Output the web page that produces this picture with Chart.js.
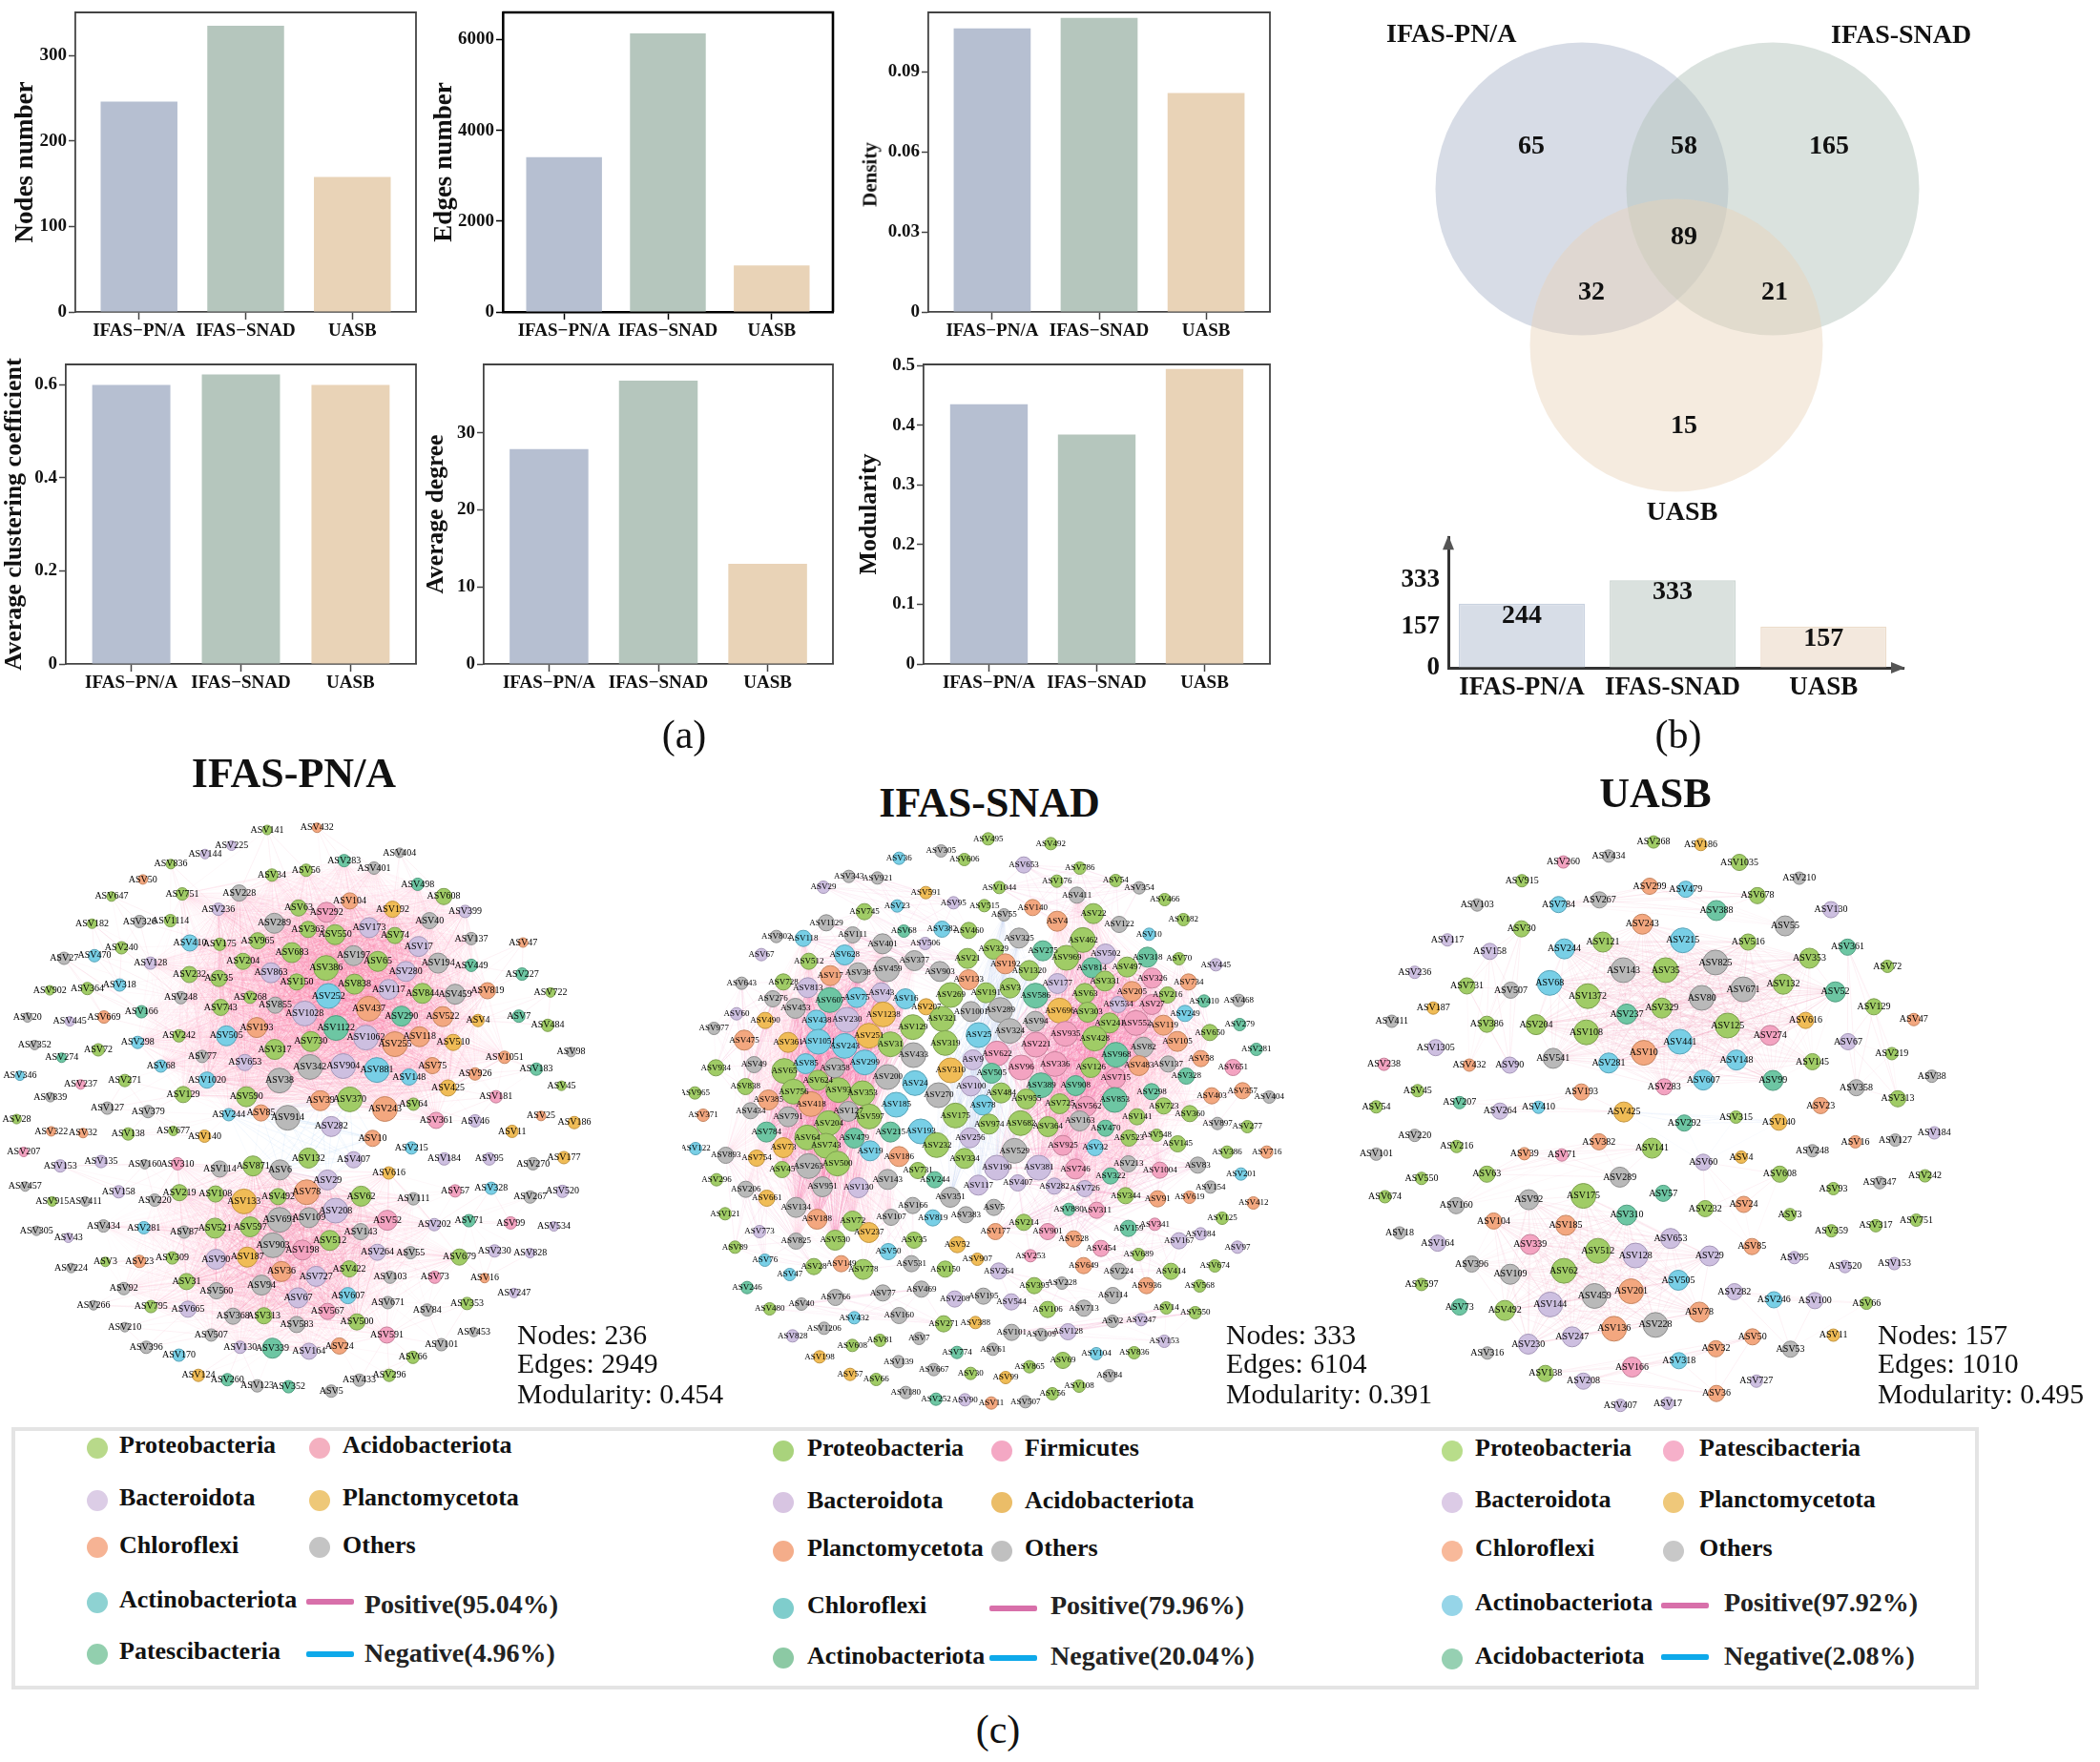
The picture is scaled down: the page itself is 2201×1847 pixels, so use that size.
<!DOCTYPE html>
<html>
<head>
<meta charset="utf-8">
<title>Co-occurrence networks</title>
<script src="https://cdn.jsdelivr.net/npm/chart.js@4"></script>
<style>
  html, body { margin: 0; background: #fff; }
  #page { position: relative; width: 2201px; height: 1847px; overflow: hidden; font-family: "Liberation Serif", serif; color: #111; }
  #page canvas { position: absolute; }
  .txt { position: absolute; white-space: nowrap; line-height: 1; transform: translateY(-50%); }
  .ctr { transform: translate(-50%, -50%); }
  .dot { position: absolute; width: 22px; height: 22px; border-radius: 50%; transform: translate(-50%, -50%); }
  .bar { position: absolute; width: 50px; height: 6px; border-radius: 2px; transform: translateY(-50%); }
  #legendBox { position: absolute; left: 12px; top: 1496px; width: 2054px; height: 267px; border: 4px solid #e4e4e4; }
</style>
</head>
<body>
<div id="page"><div id="legendBox"></div></div>
<script>
// ---- panel (a) values
const categories = ['IFAS\u2212PN/A', 'IFAS\u2212SNAD', 'UASB'];
const nodesNumber = [246, 335, 158];
const edgesNumber = [3410, 6140, 1025];
const densityValues = [0.1063, 0.1102, 0.0821];
const clusteringValues = [0.600, 0.6225, 0.600];
const degreeValues = [27.9, 36.8, 13.0];
const modularityValues = [0.435, 0.384, 0.494];

const nodesTicks = [0, 100, 200, 300];
const edgesTicks = [0, 2000, 4000, 6000];
const densityTicks = [0, 0.03, 0.06, 0.09];
const clusteringTicks = [0, 0.2, 0.4, 0.6];
const degreeTicks = [0, 10, 20, 30];
const modularityTicks = [0, 0.1, 0.2, 0.3, 0.4, 0.5];

// ---- panel (b) values
const vennSets = ['IFAS-PN/A', 'IFAS-SNAD', 'UASB'];
const vennCounts = ['65', '58', '165', '89', '32', '21', '15'];
const vennCountX = [205, 365, 517, 365, 268, 460, 365];
const vennCountY = [154, 154, 154, 249, 307, 307, 447];
const vennCircleX = [258, 458, 357];
const vennCircleY = [198, 198, 362];
const totalNodes = [244, 333, 157];
const totalTicks = [0, 157, 333];

// ---- panel (c) network nodes: label, x, y, degree class, node colour key
const pnaNodes = `ASV141 563 196 1 g,ASV432 668 191 1 o,ASV225 488 232 1 v,ASV144 432 251 1 v,ASV404 842 248 1 k,ASV836 360 274 1 g,ASV283 725 266 2 t,ASV401 788 283 2 k,
ASV56 645 288 2 g,ASV34 573 299 2 g,ASV50 301 309 1 o,ASV498 880 320 2 t,ASV608 935 348 3 g,ASV647 235 348 1 g,ASV751 384 342 2 g,ASV228 504 340 3 k,
ASV236 460 377 2 v,ASV63 629 374 3 g,ASV292 688 384 4 p,ASV104 737 358 3 o,ASV192 827 377 3 y,ASV399 980 382 2 v,ASV182 194 410 1 g,ASV326 294 405 2 k,
ASV1114 359 403 2 g,ASV40 905 403 3 k,ASV289 578 409 4 k,ASV363 649 423 3 g,ASV173 778 419 4 v,ASV550 706 435 4 g,ASV74 832 437 3 g,ASV137 993 444 2 k,
ASV47 1102 453 1 o,ASV410 400 454 3 c,ASV175 463 457 2 g,ASV965 543 449 3 g,ASV17 882 462 4 v,ASV240 256 465 2 g,ASV470 199 483 2 c,ASV27 135 489 2 k,
ASV683 615 476 4 g,ASV197 745 483 4 k,ASV65 796 496 4 g,ASV204 512 496 3 g,ASV194 923 500 4 k,ASV449 993 505 2 t,ASV128 317 500 2 v,ASV232 399 526 3 g,
ASV35 461 535 3 g,ASV386 687 511 5 g,ASV863 571 522 4 v,ASV280 855 519 4 v,ASV227 1100 525 2 t,ASV150 625 543 3 g,ASV318 252 550 2 c,ASV364 184 558 2 g,
ASV902 105 562 1 g,ASV838 747 548 4 g,ASV117 819 560 4 v,ASV844 890 569 4 g,ASV459 959 571 4 k,ASV819 1027 563 3 o,ASV722 1160 567 1 g,ASV248 381 579 2 k,
ASV268 527 578 2 g,ASV252 692 575 5 c,ASV437 777 604 5 o,ASV855 580 596 3 k,ASV743 465 601 3 g,ASV166 298 611 2 t,ASV20 58 624 1 k,ASV445 147 633 1 v,
ASV669 219 623 2 o,ASV1028 642 615 5 v,ASV522 933 622 4 o,ASV290 846 621 4 t,ASV4 1007 631 2 y,ASV7 1093 621 2 t,ASV484 1154 642 2 g,ASV193 541 647 4 o,
ASV1122 708 648 5 t,ASV242 377 666 2 g,ASV505 477 666 4 c,ASV1062 771 670 5 v,ASV118 884 668 4 o,ASV255 832 685 5 o,ASV730 655 679 4 g,ASV510 955 681 3 y,
ASV352 73 687 1 k,ASV298 290 681 2 c,ASV72 207 698 2 g,ASV274 130 716 1 t,ASV77 426 713 2 k,ASV317 579 697 4 g,ASV653 516 727 3 v,ASV98 1203 703 1 k,
ASV1051 1063 715 2 o,ASV183 1130 742 2 t,ASV68 339 735 2 c,ASV342 653 737 5 k,ASV904 723 735 5 v,ASV881 794 744 5 c,ASV75 911 734 3 o,ASV346 42 757 1 c,
ASV148 862 760 3 c,ASV926 1001 753 2 o,ASV1020 436 767 3 c,ASV271 263 768 2 g,ASV237 170 777 1 p,ASV38 589 768 5 k,ASV45 1183 780 1 g,ASV425 944 785 3 y,
ASV839 106 806 1 k,ASV129 386 800 3 g,ASV590 519 805 4 g,ASV39 675 814 4 o,ASV370 737 811 5 g,ASV181 1045 805 2 p,ASV64 871 822 2 g,ASV127 226 831 2 k,
ASV379 312 839 2 k,ASV243 811 833 5 o,ASV244 482 846 2 c,ASV85 550 842 3 o,ASV914 606 853 5 k,ASV25 1140 849 1 o,ASV186 1210 864 2 y,ASV28 35 856 1 g,
ASV361 919 859 3 p,ASV46 1001 860 2 v,ASV322 108 884 1 o,ASV32 175 888 1 o,ASV138 270 890 2 g,ASV677 365 883 1 g,ASV140 431 895 2 y,ASV282 698 873 4 v,
ASV11 1079 884 2 y,ASV10 785 900 3 o,ASV207 50 931 1 p,ASV215 867 922 2 c,ASV132 650 945 4 g,ASV184 936 947 2 v,ASV95 1031 947 2 v,ASV177 1188 944 2 y,
ASV407 745 949 3 v,ASV135 213 953 2 v,ASV153 127 963 2 v,ASV160 305 959 1 k,ASV310 374 958 2 p,ASV114 463 970 3 k,ASV871 533 963 4 g,ASV270 1123 958 2 k,
ASV6 590 972 4 k,ASV616 819 979 2 y,ASV29 690 995 4 v,ASV457 53 1010 1 k,ASV158 250 1022 2 v,ASV57 959 1020 2 p,ASV328 1035 1014 2 c,ASV520 1185 1021 2 v,
ASV219 378 1024 3 g,ASV108 454 1027 3 g,ASV492 586 1033 3 g,ASV78 646 1023 5 o,ASV62 761 1032 4 g,ASV111 871 1038 2 k,ASV267 1117 1034 2 k,ASV915 110 1044 1 g,
ASV411 180 1044 1 k,ASV220 326 1041 2 k,ASV133 514 1044 5 y,ASV208 707 1065 5 v,ASV691 589 1086 5 k,ASV109 651 1081 4 k,ASV52 816 1087 4 p,ASV71 988 1088 2 t,
ASV99 1076 1093 2 p,ASV202 915 1097 2 v,ASV534 1167 1101 1 v,ASV434 218 1100 2 k,ASV281 303 1104 2 c,ASV87 388 1114 2 k,ASV305 77 1111 1 k,ASV521 453 1105 4 g,
ASV597 527 1102 4 g,ASV143 760 1113 3 k,ASV43 144 1127 1 v,ASV512 695 1133 4 g,ASV903 575 1144 5 k,ASV198 637 1155 4 p,ASV264 795 1160 3 v,ASV55 865 1161 2 k,
ASV230 1042 1157 2 v,ASV828 1117 1162 1 v,ASV679 968 1171 3 g,ASV309 363 1173 2 g,ASV90 455 1176 4 v,ASV187 521 1171 4 y,ASV3 222 1182 1 g,ASV23 294 1181 2 o,
ASV224 150 1196 1 k,ASV36 593 1204 4 o,ASV422 736 1198 3 g,ASV727 666 1215 4 v,ASV103 822 1217 2 k,ASV73 916 1217 2 p,ASV16 1021 1219 1 o,ASV31 393 1227 3 g,
ASV94 551 1235 4 k,ASV560 456 1248 3 k,ASV92 261 1243 2 k,ASV247 1083 1253 1 v,ASV67 628 1264 4 v,ASV607 733 1259 3 c,ASV671 817 1275 2 k,ASV353 984 1277 2 g,
ASV266 197 1281 1 k,ASV795 318 1284 2 g,ASV665 396 1290 3 v,ASV84 900 1292 2 k,ASV567 690 1295 3 p,ASV368 491 1306 3 k,ASV313 556 1305 3 g,ASV583 625 1325 3 k,
ASV500 752 1319 3 g,ASV210 263 1331 1 k,ASV453 998 1342 1 k,ASV507 445 1349 2 k,ASV591 815 1349 3 p,ASV101 930 1371 2 k,ASV396 308 1377 2 k,ASV130 506 1377 2 v,
ASV339 574 1379 4 t,ASV164 651 1386 3 v,ASV24 715 1374 3 o,ASV170 377 1395 2 c,ASV66 870 1400 2 g,ASV124 418 1441 2 y,ASV260 479 1451 2 t,ASV123 542 1465 2 k,
ASV352b 608 1467 2 t,ASV433 757 1452 2 k,ASV296 820 1441 2 g,ASV5 698 1477 2 k`;

// IFAS-SNAD was read in four tiles, each tile has its own origin
const snadTopLeft = `ASV36 682 89 2 c,ASV305 814 66 2 k,ASV606 887 93 2 g,ASV495 962 28 2 g,ASV343 524 146 2 k,ASV921 614 151 2 k,ASV29 444 180 2 v,ASV591 766 197 2 y,
ASV95 853 229 2 v,ASV515 950 238 2 g,ASV23 676 239 2 c,ASV745 573 257 3 g,ASV1129 453 292 3 k,ASV68 697 318 2 t,ASV382 817 312 3 c,ASV460 901 316 3 g,
ASV802 296 335 2 k,ASV118 381 341 3 c,ASV111 536 330 3 k,ASV401 630 358 4 k,ASV506 764 357 2 v,ASV67 249 392 2 v,ASV628 511 393 4 c,ASV512 398 413 3 g,
ASV21 897 404 4 g,ASV377 730 411 4 k,ASV903 810 445 4 k,ASV17 466 458 4 o,ASV38 553 449 4 k,ASV459 644 438 5 k,ASV133 901 471 4 o,ASV643 187 482 2 k,
ASV728 318 478 3 g,ASV813 395 496 4 v,ASV269 844 519 5 g,ASV276 285 531 3 k,ASV607 464 535 5 t,ASV75 549 527 4 c,ASV43 626 512 4 v,ASV16 702 531 4 c,
ASV207 767 556 3 y,ASV453 356 561 4 k,ASV321 817 594 5 g,ASV1001 908 571 4 k,ASV60 171 578 2 v,ASV490 261 599 3 y,ASV438 422 598 4 c,ASV230 518 597 5 v,
ASV1238 632 580 5 y,ASV129 725 620 5 g,ASV977 100 624 2 k,ASV25 932 645 5 c,ASV475 195 661 4 o,ASV361 333 668 4 y,ASV1051 428 666 5 c,ASV243 511 679 5 c,
ASV251 587 647 5 y,ASV31 655 674 5 g,ASV319 827 670 5 g,ASV433 727 708 5 k,ASV9 914 723 4 v,ASV49 226 738 3 k,ASV85 388 735 4 c,ASV299 574 731 5 c,
ASV934 106 748 3 g,ASV358 480 748 4 k,ASV65 321 758 5 g,ASV310 844 756 5 y,ASV200 646 777 5 k,ASV624 427 787 4 g,ASV24 732 796 5 c,ASV838 199 807 3 g,
ASV100 908 805 4 v,ASV756 350 823 5 g,ASV93 491 818 5 g,ASV353 567 828 5 g,ASV270 806 834 5 k,ASV965 40 827 2 g,ASV385 271 849 4 o,ASV185 673 864 5 c,
ASV418 405 862 5 o,ASV434 215 883 3 k,ASV371 66 897 2 o,ASV791 333 902 4 k,ASV127 522 885 4 k,ASV597 588 901 5 g,ASV175 859 898 5 g,ASV204 460 922 5 g,
ASV78 945 865 4 c`;
const snadTopRight = `ASV492 184 43 2 g,ASV653 99 110 3 v,ASV786 275 120 2 g,ASV1044 22 181 2 g,ASV176 203 161 2 g,ASV54 388 159 2 g,ASV354 462 182 2 k,ASV466 542 219 2 g,
ASV411 266 205 3 k,ASV22 318 263 4 g,ASV140 127 244 3 o,ASV182 601 282 2 g,ASV55 37 267 2 k,ASV4 204 287 4 o,ASV122b 399 297 3 k,ASV10 493 328 2 c,
ASV325 84 340 4 k,ASV462 285 346 5 g,ASV329 4 375 4 g,ASV275 159 380 4 t,ASV502 356 390 4 v,ASV969 233 402 5 g,ASV318 488 400 4 t,ASV70 587 405 2 g,
ASV445 703 424 2 v,ASV192 41 421 4 o,ASV814 313 433 4 t,ASV497 424 431 4 g,ASV1320 116 442 4 g,ASV326 503 466 4 p,ASV734 617 478 3 o,ASV331 354 475 4 g,
ASV177b 205 483 4 v,ASV3 56 497 4 g,ASV205 439 508 4 o,ASV63 291 514 4 g,ASV216 551 519 3 g,ASV586 136 521 5 t,ASV410 666 538 2 t,ASV468 775 536 2 k,
ASV534 396 549 3 v,ASV27 502 549 4 p,ASV289 25 566 5 k,ASV696 212 568 5 y,ASV303 300 573 4 g,ASV249 606 577 3 c,ASV94 135 602 4 k,ASV241 369 607 4 g,
ASV552 452 607 5 p,ASV119 538 614 4 o,ASV279 778 612 2 t,ASV324 55 632 5 k,ASV935 230 641 5 p,ASV650 684 637 3 g,ASV428 322 656 5 g,ASV221 137 675 5 p,
ASV105 582 665 4 o,ASV82 475 683 4 k,ASV281 830 690 2 t,ASV622 15 703 5 p,ASV968 389 707 5 t,ASV58 656 719 3 o,ASV336 197 736 5 p,ASV483 461 741 4 o,
ASV137 553 736 3 k,ASV651 757 747 3 p,ASV96 91 747 5 p,ASV126 310 747 4 g,ASV505 -2 765 4 t,ASV715 388 780 4 p,ASV328 610 774 3 t,ASV389 153 803 5 t,
ASV908 262 804 4 t,ASV484 28 827 4 g,ASV298 501 823 3 t,ASV403 690 836 3 o,ASV357 787 820 3 o,ASV404 871 840 2 k,ASV955 107 846 4 g,ASV853 385 849 5 t,
ASV725 212 861 4 g,ASV562 296 869 4 p,ASV723 539 868 3 g,ASV360 621 892 3 g,ASV141 455 902 3 g,ASV163 275 915 4 k,ASV897 708 923 2 k,ASV277 802 933 2 g,
ASV682 89 922 5 g,ASV364 175 933 4 g,ASV470 356 938 3 t,ASV974 -10 925 4 g,ASV191 -20 512 4 g`;
const snadBottomLeft = `ASV784 265 5 4 t,ASV64 393 22 5 g,ASV479 541 24 4 t,ASV215 655 5 4 t,ASV193 750 3 5 c,ASV256 905 23 4 v,ASV122 42 57 2 c,ASV743 452 48 5 g,
ASV73 318 54 4 y,ASV232 800 46 5 g,ASV893 137 78 3 k,ASV754 234 87 3 y,ASV19 591 64 4 c,ASV186 682 82 4 o,ASV334 888 88 4 g,ASV263 397 112 5 k,
ASV500 488 104 5 g,ASV45 314 123 3 g,ASV731 741 126 3 g,ASV244 794 155 3 t,ASV296 108 155 2 g,ASV143 646 154 4 k,ASV117 931 172 4 v,ASV951 441 177 4 k,
ASV130 554 180 4 v,ASV206 200 185 3 k,ASV661 266 213 3 y,ASV351 843 210 4 k,ASV134 358 242 4 k,ASV166 725 236 3 k,ASV121 135 262 2 g,ASV107 657 273 3 k,
ASV383 892 265 3 k,ASV819 788 275 3 c,ASV188 424 279 4 o,ASV72 536 285 4 g,ASV237 587 321 4 y,ASV773 243 318 2 v,ASV825 358 348 3 k,ASV530 481 345 4 g,
ASV35 729 345 3 g,ASV52 865 359 3 y,ASV89 166 367 2 g,ASV50 648 381 3 c,ASV76 260 408 2 c,ASV907 928 405 2 y,ASV531 721 419 3 k,ASV28 414 428 3 g,
ASV149 500 419 3 o,ASV778 569 437 4 g,ASV150 827 436 3 g,ASV47 338 453 2 c,ASV246 204 494 2 t,ASV469 752 499 3 k,ASV77 631 511 3 k,ASV766 482 525 3 k,
ASV208 857 530 3 v,ASV195 947 521 3 k,ASV40 375 546 2 k,ASV480 275 561 2 g,ASV160 682 582 3 k,ASV432 541 589 2 c,ASV271 822 608 3 g,ASV388 922 604 2 y,
ASV1206 446 622 2 k,ASV828 347 646 2 v,ASV81 622 660 2 g,ASV7 745 654 2 k,ASV608 535 676 2 g,ASV774 864 698 2 t,ASV198 432 712 2 y,ASV139 680 727 2 k,
ASV667 791 752 2 k,ASV57 528 767 2 y,ASV30 907 764 2 g,ASV66 610 783 2 g,ASV180 703 824 2 k,ASV252 798 845 2 t,ASV90 889 847 2 v`;
const snadBottomRight = `ASV523 430 24 3 g,ASV548 517 15 2 g,ASV145 583 42 3 g,ASV386 738 68 2 g,ASV716 863 68 2 o,ASV925 222 47 4 p,ASV32 323 54 3 c,ASV529 70 64 5 k,
ASV213 428 105 3 k,ASV83 646 109 3 k,ASV1004 527 125 3 p,ASV190 14 117 5 v,ASV381 146 117 5 v,ASV746 261 121 4 p,ASV201 782 137 2 c,ASV322 372 143 3 t,
ASV407 80 165 3 v,ASV282 195 175 3 v,ASV726 291 183 3 v,ASV154 686 178 2 k,ASV344 419 205 3 g,ASV91 520 215 3 o,ASV619 620 210 2 o,ASV412 821 228 2 o,
ASV5 5 242 3 k,ASV880 240 248 2 t,ASV311 328 251 3 p,ASV125 723 276 2 g,ASV214 99 289 3 g,ASV341 511 295 2 p,ASV159 428 308 3 t,ASV184 655 325 2 v,
ASV901 174 318 3 p,ASV177 10 318 3 o,ASV528 256 341 3 o,ASV167 587 347 3 v,ASV454 342 371 3 p,ASV97 771 367 2 v,ASV253 120 394 2 p,ASV689 460 390 2 g,
ASV649 287 425 3 o,ASV674 700 426 2 g,ASV224 397 443 3 k,ASV414 562 443 3 g,ASV264 20 442 3 v,ASV395 132 488 3 g,ASV228 219 480 2 k,ASV936 485 488 3 o,
ASV568 652 489 2 g,ASV114 379 519 3 k,ASV544 60 539 3 v,ASV106 174 563 3 g,ASV713 288 559 3 k,ASV14 547 558 2 g,ASV550 638 573 2 g,ASV2 378 600 2 k,
ASV247 468 595 2 v,ASV101 61 635 3 k,ASV109 154 642 2 k,ASV128 238 633 3 v,ASV153 541 663 2 v,ASV61 2 688 2 k,ASV104 327 702 2 c,ASV836 446 699 2 g,
ASV69 222 723 3 g,ASV865 117 743 2 g,ASV99 42 777 2 y,ASV84 368 771 2 k,ASV108 273 804 2 g,ASV56 189 828 2 g,ASV11 -3 857 2 o,ASV507 104 853 2 k`;

const uasbNodes = `ASV268 652 185 2 g,ASV186 749 191 2 y,ASV260 467 232 2 p,ASV434 560 218 2 k,ASV1035 828 233 3 g,ASV210 951 270 2 k,ASV915 382 276 2 g,ASV299 644 289 3 o,
ASV479 718 296 3 c,ASV678 865 311 3 g,ASV103 290 333 2 k,ASV784 457 332 3 c,ASV267 541 321 3 k,ASV388 781 346 4 t,ASV130 1016 344 3 v,ASV243 629 378 4 o,
ASV30 381 389 3 g,ASV55 922 382 4 k,ASV117 229 415 2 v,ASV215 712 416 5 c,ASV121 548 420 4 g,ASV516 846 420 3 g,ASV158 316 442 3 v,ASV244 469 436 4 c,
ASV361 1050 432 3 t,ASV825 779 468 5 k,ASV353 972 458 4 g,ASV72 1132 477 2 g,ASV236 162 491 2 v,ASV143 590 486 5 k,ASV35 677 486 5 g,ASV731 269 523 3 g,
ASV507 359 533 3 k,ASV68 439 516 5 c,ASV132 918 519 4 g,ASV671 836 531 5 k,ASV52 1025 537 4 t,ASV1372 517 547 5 g,ASV80 751 551 5 k,ASV129 1104 572 3 g,
ASV187 200 575 2 y,ASV237 597 589 4 t,ASV329 669 575 4 g,ASV616 964 604 3 y,ASV47 1186 602 2 o,ASV411 115 606 2 k,ASV386 310 613 3 g,ASV204 411 614 4 g,
ASV125 804 616 5 g,ASV108 514 632 5 g,ASV274 891 639 4 p,ASV441 706 654 5 c,ASV67 1051 654 3 v,ASV1305 205 668 3 v,ASV10 632 680 5 o,ASV219 1141 682 2 g,
ASV238 99 707 2 p,ASV432 274 709 2 o,ASV90 357 709 3 v,ASV541 446 693 4 k,ASV281 560 704 4 c,ASV148 822 697 4 c,ASV145 978 701 3 g,ASV38 1223 735 2 k,
ASV607 754 744 4 c,ASV99 897 745 4 t,ASV283 674 760 3 p,ASV358 1068 762 3 k,ASV45 168 769 2 g,ASV207 254 797 2 t,ASV193 504 772 3 o,ASV313 1153 788 3 g,
ASV54 83 807 2 g,ASV23 995 804 3 o,ASV264 337 817 3 v,ASV410 416 808 2 c,ASV425 591 819 4 y,ASV315 821 831 2 g,ASV292 715 845 3 t,ASV140 909 843 3 y,
ASV184 1228 868 2 v,ASV220 162 874 2 k,ASV216 248 900 2 g,ASV382 540 889 3 o,ASV141 649 904 4 g,ASV16 1066 889 2 o,ASV127 1148 885 2 k,ASV101 83 918 2 k,
ASV39 387 917 2 o,ASV71 464 920 2 p,ASV4 832 925 2 y,ASV60 754 937 3 v,ASV248 978 910 2 k,ASV63 310 965 3 g,ASV608 911 965 3 g,ASV242 1209 969 2 g,
ASV550 176 975 2 g,ASV289 583 972 4 k,ASV93 1021 999 2 g,ASV347 1116 985 2 k,ASV674 101 1018 2 g,ASV175 508 1016 5 g,ASV57 672 1010 3 t,ASV92 396 1025 4 k,
ASV160 247 1039 3 k,ASV232 758 1046 3 g,ASV24 837 1036 3 o,ASV3 932 1060 2 g,ASV310 597 1061 4 t,ASV104 324 1075 3 o,ASV185 472 1085 4 o,ASV751 1191 1073 2 g,
ASV359 1017 1098 2 g,ASV317 1108 1086 2 g,ASV18 131 1103 2 k,ASV653 687 1116 4 v,ASV164 209 1127 3 v,ASV339 399 1130 4 p,ASV85 854 1135 3 o,ASV512 538 1145 5 g,
ASV128 615 1156 5 v,ASV29 767 1157 4 v,ASV95 941 1161 2 v,ASV153 1146 1175 2 v,ASV396 279 1176 3 k,ASV520 1045 1182 2 v,ASV109 358 1200 4 k,ASV62 468 1192 5 g,
ASV505 703 1214 4 c,ASV597 176 1224 2 g,ASV201 606 1240 5 o,ASV282 818 1241 3 v,ASV459 531 1251 5 k,ASV246 899 1260 3 c,ASV100 983 1262 3 v,ASV66 1089 1268 2 g,
ASV144 440 1271 5 v,ASV73 254 1277 3 t,ASV492 347 1285 4 g,ASV78 746 1289 4 o,ASV228 656 1319 5 k,ASV136 571 1328 5 o,ASV247 485 1347 4 v,ASV11 1021 1343 2 y,
ASV50 855 1347 3 o,ASV230 395 1364 4 v,ASV32 780 1375 3 o,ASV53 933 1376 3 k,ASV316 311 1385 2 k,ASV318 704 1403 3 c,ASV138 430 1433 3 g,ASV166 608 1418 4 p,
ASV208 508 1451 3 v,ASV727 863 1451 2 v,ASV36 781 1480 3 o,ASV407 584 1508 2 v,ASV17 681 1503 2 v`;

// edges are too dense to trace: strongly linked groups, each group is drawn fully connected
const pnaPositive = [
  'ASV292 ASV104 ASV192 ASV63 ASV289 ASV363 ASV173 ASV550 ASV74 ASV17 ASV683 ASV197 ASV65 ASV204 ASV194 ASV386 ASV863 ASV280 ASV150 ASV838 ASV117 ASV844 ASV252 ASV437 ASV855 ASV1028 ASV522 ASV290 ASV193 ASV1122 ASV1062 ASV118 ASV255 ASV730 ASV317 ASV342 ASV904 ASV881',
  'ASV228 ASV236 ASV965 ASV40 ASV175 ASV35 ASV232 ASV743 ASV459 ASV819 ASV505 ASV510 ASV653 ASV75 ASV148 ASV425 ASV243 ASV590 ASV39 ASV370 ASV38 ASV1020 ASV129',
  'ASV871 ASV6 ASV29 ASV492 ASV78 ASV62 ASV133 ASV208 ASV691 ASV109 ASV52 ASV521 ASV597 ASV143 ASV512 ASV903 ASV198 ASV90 ASV187 ASV36 ASV727 ASV94 ASV560 ASV67 ASV31 ASV422 ASV607 ASV264 ASV368 ASV313 ASV583 ASV567 ASV500 ASV108 ASV219',
  'ASV141 ASV34 ASV56 ASV228 ASV63 ASV751', 'ASV432 ASV283 ASV104 ASV401 ASV292', 'ASV404 ASV498 ASV192 ASV40 ASV608 ASV74', 'ASV836 ASV751 ASV410 ASV236 ASV1114',
  'ASV647 ASV326 ASV128 ASV175 ASV240', 'ASV182 ASV470 ASV240 ASV318 ASV248 ASV232', 'ASV27 ASV364 ASV669 ASV166 ASV242 ASV248', 'ASV399 ASV137 ASV194 ASV449 ASV844',
  'ASV47 ASV819 ASV449 ASV227 ASV459', 'ASV722 ASV4 ASV7 ASV484 ASV522', 'ASV1051 ASV926 ASV510 ASV183 ASV425 ASV181', 'ASV298 ASV68 ASV77 ASV505 ASV1020 ASV242', 'ASV271 ASV379 ASV129 ASV127 ASV77',
  'ASV361 ASV64 ASV181 ASV46 ASV425', 'ASV138 ASV677 ASV140 ASV379 ASV244', 'ASV153 ASV158 ASV160 ASV310 ASV220 ASV219', 'ASV114 ASV871 ASV219 ASV310 ASV108', 'ASV616 ASV111 ASV62 ASV52 ASV202 ASV57',
  'ASV328 ASV71 ASV99 ASV202 ASV267', 'ASV434 ASV281 ASV87 ASV309 ASV521', 'ASV3 ASV23 ASV309 ASV31 ASV92', 'ASV103 ASV73 ASV264 ASV55 ASV679 ASV84', 'ASV230 ASV679 ASV16 ASV828 ASV71',
  'ASV266 ASV795 ASV665 ASV31 ASV92', 'ASV210 ASV396 ASV507 ASV665 ASV368', 'ASV130 ASV339 ASV164 ASV24 ASV583 ASV507', 'ASV124 ASV260 ASV123 ASV130 ASV339', 'ASV433 ASV296 ASV66 ASV591 ASV24', 'ASV101 ASV591 ASV84 ASV353 ASV671'
];
const pnaNegative = ['ASV914 ASV282 ASV132 ASV407 ASV10 ASV244 ASV6 ASV29 ASV85 ASV39 ASV370 ASV871'];
// fainter, wider modules give the pink haze round the hubs
const pnaHaze = [
  pnaPositive[0] + ' ' + pnaPositive[1] + ' ASV410 ASV248 ASV268 ASV242 ASV298 ASV68 ASV128 ASV751 ASV34 ASV56 ASV283 ASV401 ASV498 ASV608 ASV399 ASV137 ASV449 ASV4 ASV1051 ASV926 ASV361 ASV64 ASV85 ASV244 ASV77 ASV166',
  pnaPositive[2] + ' ASV114 ASV310 ASV220 ASV281 ASV87 ASV309 ASV665 ASV795 ASV507 ASV130 ASV339 ASV164 ASV24 ASV591 ASV671 ASV103 ASV55 ASV202 ASV111 ASV616 ASV679 ASV92 ASV434'
];

const snadPositive = [
  'ASV17 ASV38 ASV459 ASV813 ASV607 ASV75 ASV43 ASV16 ASV453 ASV438 ASV230 ASV1238 ASV129 ASV361 ASV1051 ASV243 ASV251 ASV31 ASV85 ASV299 ASV358 ASV65 ASV200 ASV624 ASV756 ASV93 ASV353 ASV385 ASV418 ASV791 ASV127 ASV597 ASV204 ASV784 ASV64 ASV479 ASV743 ASV73 ASV263 ASV500 ASV45 ASV951 ASV134 ASV188 ASV530 ASV72',
  'ASV462 ASV969 ASV814 ASV497 ASV331 ASV63 ASV205 ASV326 ASV216 ASV586 ASV534 ASV27 ASV696 ASV303 ASV94 ASV241 ASV552 ASV119 ASV324 ASV935 ASV428 ASV221 ASV105 ASV82 ASV622 ASV968 ASV336 ASV483 ASV96 ASV126 ASV715 ASV389 ASV908 ASV955 ASV853 ASV725 ASV562 ASV682 ASV364 ASV163 ASV925 ASV746 ASV381 ASV190',
  'ASV925 ASV32 ASV529 ASV213 ASV1004 ASV322 ASV407 ASV282 ASV726 ASV344 ASV91 ASV311 ASV214 ASV901 ASV523 ASV548 ASV145 ASV83 ASV177 ASV528 ASV253',
  'ASV401 ASV628 ASV111 ASV745 ASV1129 ASV118 ASV512 ASV377 ASV506 ASV21 ASV903 ASV133 ASV269', 'ASV643 ASV728 ASV276 ASV490 ASV475 ASV49 ASV934 ASV838 ASV434 ASV60 ASV977',
  'ASV343 ASV921 ASV29 ASV591 ASV23 ASV68 ASV95 ASV382 ASV460', 'ASV653 ASV786 ASV176 ASV1044 ASV140 ASV411 ASV22 ASV4 ASV54 ASV354 ASV122b ASV502',
  'ASV318 ASV70 ASV734 ASV216 ASV410 ASV249 ASV650 ASV58 ASV137 ASV328', 'ASV403 ASV357 ASV298 ASV723 ASV360 ASV141 ASV897 ASV470', 'ASV893 ASV754 ASV206 ASV661 ASV825 ASV773 ASV89 ASV76 ASV28 ASV149',
  'ASV143 ASV130 ASV107 ASV237 ASV50 ASV531 ASV778 ASV166 ASV35', 'ASV766 ASV77 ASV469 ASV160 ASV432 ASV271 ASV40 ASV480', 'ASV880 ASV159 ASV341 ASV454 ASV689 ASV649 ASV224 ASV936 ASV414 ASV167 ASV184',
  'ASV395 ASV228 ASV544 ASV106 ASV713 ASV264 ASV114', 'ASV101 ASV109 ASV128 ASV2 ASV247 ASV14 ASV550 ASV153'
];
const snadNegative = ['ASV25 ASV9 ASV100 ASV310 ASV175 ASV321 ASV319 ASV1001 ASV3 ASV289 ASV78 ASV256 ASV232 ASV334 ASV117 ASV529 ASV190 ASV192 ASV325 ASV275 ASV55 ASV1320 ASV484 ASV505 ASV351 ASV329 ASV191'];
const snadHaze = [
  snadPositive[0] + ' ASV401 ASV628 ASV111 ASV377 ASV118 ASV512 ASV728 ASV276 ASV490 ASV475 ASV49 ASV838 ASV893 ASV754 ASV45 ASV143 ASV130 ASV107 ASV237 ASV825 ASV206',
  snadPositive[1] + ' ASV22 ASV4 ASV411 ASV502 ASV318 ASV734 ASV650 ASV58 ASV137 ASV328 ASV298 ASV723 ASV360 ASV141 ASV32 ASV213 ASV1004 ASV322 ASV282 ASV726 ASV344 ASV311 ASV523 ASV548'
];

const uasbPositive = [
  'ASV243 ASV215 ASV121 ASV516 ASV244 ASV825 ASV353 ASV143 ASV35 ASV68 ASV132 ASV671 ASV52 ASV1372 ASV80 ASV237 ASV329 ASV616 ASV204 ASV125 ASV108 ASV274 ASV441 ASV10 ASV541 ASV281 ASV148 ASV607 ASV99 ASV283 ASV145',
  'ASV175 ASV92 ASV185 ASV310 ASV653 ASV339 ASV512 ASV128 ASV29 ASV109 ASV62 ASV505 ASV201 ASV459 ASV144 ASV492 ASV78 ASV228 ASV136 ASV247 ASV230 ASV104 ASV396',
  'ASV299 ASV479 ASV267 ASV784 ASV388 ASV678 ASV55', 'ASV30 ASV158 ASV731 ASV507 ASV386 ASV90 ASV432', 'ASV361 ASV129 ASV67 ASV358 ASV313 ASV219', 'ASV264 ASV193 ASV425 ASV410 ASV207',
  'ASV382 ASV141 ASV289 ASV39 ASV71 ASV63 ASV160', 'ASV232 ASV24 ASV608 ASV60 ASV85', 'ASV166 ASV318 ASV208 ASV138 ASV36 ASV50 ASV32', 'ASV282 ASV246 ASV100 ASV53 ASV66'
];
const uasbNegative = ['ASV292 ASV315 ASV140 ASV425 ASV60'];
const uasbHaze = [];

// ---- legend and summary text
const pnaPhyla = ['Proteobacteria', 'Acidobacteriota', 'Bacteroidota', 'Planctomycetota', 'Chloroflexi', 'Others', 'Actinobacteriota', 'Patescibacteria'];
const snadPhyla = ['Proteobacteria', 'Firmicutes', 'Bacteroidota', 'Acidobacteriota', 'Planctomycetota', 'Others', 'Chloroflexi', 'Actinobacteriota'];
const uasbPhyla = ['Proteobacteria', 'Patescibacteria', 'Bacteroidota', 'Planctomycetota', 'Chloroflexi', 'Others', 'Actinobacteriota', 'Acidobacteriota'];
const pnaEdgeShare = ['Positive(95.04%)', 'Negative(4.96%)'];
const snadEdgeShare = ['Positive(79.96%)', 'Negative(20.04%)'];
const uasbEdgeShare = ['Positive(97.92%)', 'Negative(2.08%)'];
const pnaStats = ['Nodes: 236', 'Edges: 2949', 'Modularity: 0.454'];
const snadStats = ['Nodes: 333', 'Edges: 6104', 'Modularity: 0.391'];
const uasbStats = ['Nodes: 157', 'Edges: 1010', 'Modularity: 0.495'];

// ---- styling
const SERIF = '"Liberation Serif", serif';
const barColors = ['#b6bfd1', '#b5c6bd', '#e9d3b7'];
const nodeFill = { g: '#a0cc66', v: '#cdbfe0', o: '#f3a77f', c: '#78cfe6', t: '#6dc6a3', p: '#f3a3c1', y: '#f0bc56', k: '#b9b9b9' };
const nodeEdge = { g: '#7d9f4f', v: '#a596b8', o: '#c5845f', c: '#58a3b8', t: '#4f9c7f', p: '#c57f99', y: '#c29440', k: '#8c8c8c' };
const nodeRadius = { 1: 5, 2: 6.5, 3: 8.5, 4: 10.5, 5: 13 };

Chart.defaults.font.family = SERIF;
Chart.defaults.animation = false;
Chart.defaults.events = [];
Chart.defaults.plugins.legend.display = false;
Chart.defaults.plugins.tooltip.enabled = false;

const page = document.getElementById('page');

function addCanvas(left, top, width, height) {
  const c = document.createElement('canvas');
  c.width = width; c.height = height;
  c.style.left = left + 'px'; c.style.top = top + 'px';
  c.style.width = width + 'px'; c.style.height = height + 'px';
  page.appendChild(c);
  return c;
}

function addText(text, x, y, size, bold, centered, colour) {
  const d = document.createElement('div');
  d.className = 'txt' + (centered ? ' ctr' : '');
  d.textContent = text;
  d.style.left = x + 'px'; d.style.top = y + 'px';
  d.style.fontSize = size + 'px';
  d.style.fontWeight = bold ? 'bold' : 'normal';
  if (colour) d.style.color = colour;
  page.appendChild(d);
  return d;
}

// draws a text on each point of a dataset that has textLabels
const pointTextPlugin = {
  id: 'pointText',
  afterDatasetsDraw(chart) {
    const ctx = chart.ctx;
    chart.data.datasets.forEach((ds, i) => {
      if (!ds.textLabels) return;
      ctx.save();
      ctx.font = ds.textFont;
      ctx.fillStyle = ds.textColor || '#111';
      ctx.textAlign = 'center';
      ctx.textBaseline = 'middle';
      chart.getDatasetMeta(i).data.forEach((el, j) => {
        ctx.fillText(ds.textLabels[j], el.x, el.y + (ds.textOffset || 0));
      });
      ctx.restore();
    });
  }
};

// top and right spines of the small bar panels
const framePlugin = {
  id: 'frame',
  afterDraw(chart, args, opts) {
    if (!opts.color) return;
    const a = chart.chartArea, ctx = chart.ctx;
    ctx.save();
    ctx.strokeStyle = opts.color;
    ctx.lineWidth = opts.width;
    ctx.beginPath();
    ctx.moveTo(a.left, a.top); ctx.lineTo(a.right, a.top); ctx.lineTo(a.right, a.bottom);
    ctx.stroke();
    ctx.restore();
  }
};

function createBarPanel(p) {
  const canvasLeft = Math.round(p.titleX - p.titleSize * 0.6);
  const width = p.right - canvasLeft + 3;
  const top = p.top - 14, height = p.bottom - p.top + 14 + 42;
  const spine = p.spine || '#444', spineWidth = p.spineWidth || 1.8;
  new Chart(addCanvas(canvasLeft, top, width, height), {
    type: 'bar',
    plugins: [framePlugin],
    data: { datasets: [{
      data: p.values.map((v, i) => ({ x: i, y: v })),
      backgroundColor: barColors,
      barPercentage: p.barShare,
      categoryPercentage: 1
    }] },
    options: {
      responsive: false,
      layout: { padding: { top: 14, right: 3, left: 0, bottom: 0 } },
      plugins: { frame: { color: spine, width: spineWidth } },
      scales: {
        x: {
          type: 'linear', min: -p.margin, max: 2 + p.margin, offset: false,
          afterFit: s => { s.height = 42; },
          afterBuildTicks: s => { s.ticks = [0, 1, 2].map(v => ({ value: v })); },
          border: { color: spine, width: spineWidth },
          grid: { offset: false, drawOnChartArea: false, tickLength: 8, tickColor: spine, tickWidth: 1.5 },
          ticks: { autoSkip: false, maxRotation: 0, padding: 1, color: '#111', font: { size: 19, weight: 'bold' }, callback: v => categories[v] }
        },
        y: {
          min: 0, max: p.max,
          afterFit: s => { s.width = p.left - canvasLeft; },
          afterBuildTicks: s => { s.ticks = p.ticks.map(v => ({ value: v })); },
          border: { color: spine, width: spineWidth },
          grid: { drawOnChartArea: false, tickLength: 7, tickColor: spine, tickWidth: 1.5 },
          ticks: { padding: 2, color: '#111', font: { size: 19, weight: 'bold' }, callback: v => String(v) },
          title: { display: !p.titleY, text: p.title, color: '#111', padding: 0, font: { size: p.titleSize, weight: 'bold', lineHeight: 1.2 } }
        }
      }
    }
  });
  // a title that sits off the axis centre is placed by hand
  if (p.titleY) {
    addText(p.title, p.titleX, p.titleY, p.titleSize, true, true).style.transform = 'translate(-50%, -50%) rotate(-90deg)';
  }
}

createBarPanel({ title: 'Nodes number', values: nodesNumber, ticks: nodesTicks, max: 350.5, left: 79, right: 436, top: 13, bottom: 327, margin: 0.597, barShare: 0.72, titleX: 27, titleSize: 27 });
createBarPanel({ title: 'Edges number', values: edgesNumber, ticks: edgesTicks, max: 6600, left: 527, right: 873, top: 13, bottom: 327, margin: 0.59, barShare: 0.73, titleX: 466, titleSize: 27, spine: '#000', spineWidth: 2.6 });
createBarPanel({ title: 'Density', values: densityValues, ticks: densityTicks, max: 0.1123, left: 973, right: 1331, top: 13, bottom: 327, margin: 0.597, barShare: 0.72, titleX: 912, titleY: 183, titleSize: 21 });
createBarPanel({ title: 'Average clustering coefficient', values: clusteringValues, ticks: clusteringTicks, max: 0.644, left: 69, right: 436, top: 382, bottom: 696, margin: 0.597, barShare: 0.713, titleX: 16, titleSize: 26 });
createBarPanel({ title: 'Average degree', values: degreeValues, ticks: degreeTicks, max: 38.9, left: 507, right: 873, top: 382, bottom: 696, margin: 0.597, barShare: 0.72, titleX: 457, titleSize: 25.5 });
createBarPanel({ title: 'Modularity', values: modularityValues, ticks: modularityTicks, max: 0.5016, left: 968, right: 1331, top: 382, bottom: 696, margin: 0.606, barShare: 0.72, titleX: 912, titleSize: 26 });

// ---- venn diagram
new Chart(addCanvas(1400, 0, 720, 560), {
  type: 'bubble',
  plugins: [pointTextPlugin],
  data: { datasets: [
    {
      data: vennCircleX.map((x, i) => ({ x: x, y: vennCircleY[i], r: 153.5 })),
      backgroundColor: ['rgba(182,191,209,0.55)', 'rgba(181,198,189,0.5)', 'rgba(233,211,183,0.45)'],
      borderWidth: 0, order: 2, clip: false
    },
    {
      data: vennCountX.map((x, i) => ({ x: x, y: vennCountY[i], r: 0 })),
      backgroundColor: 'transparent', borderWidth: 0, order: 1,
      textLabels: vennCounts, textFont: 'bold 28px ' + SERIF
    }
  ] },
  options: {
    responsive: false,
    layout: { autoPadding: false },
    scales: {
      x: { display: false, min: 0, max: 720 },
      y: { display: false, min: 0, max: 560, reverse: true }
    }
  }
});
addText(vennSets[0], 1453, 35, 28, true);
addText(vennSets[1], 1919, 36, 28, true);
addText(vennSets[2], 1763, 536, 28, true, true);

// ---- totals under the venn diagram
const arrowPlugin = {
  id: 'axisArrows',
  afterDraw(chart) {
    const a = chart.chartArea, ctx = chart.ctx;
    ctx.save();
    ctx.fillStyle = '#555';
    ctx.beginPath();
    ctx.moveTo(a.left - 6, a.top + 13); ctx.lineTo(a.left, a.top - 2); ctx.lineTo(a.left + 6, a.top + 13);
    ctx.fill();
    ctx.beginPath();
    ctx.moveTo(a.right - 13, a.bottom - 6); ctx.lineTo(a.right + 2, a.bottom); ctx.lineTo(a.right - 13, a.bottom + 6);
    ctx.fill();
    ctx.restore();
  }
};
new Chart(addCanvas(1450, 538, 570, 207), {
  type: 'bar',
  plugins: [pointTextPlugin, arrowPlugin],
  data: { datasets: [{
    data: totalNodes.map((v, i) => ({ x: i, y: v })),
    backgroundColor: ['#d7dde7', '#dae1de', '#f3e8dd'],
    borderColor: ['#c9d2e0', '#ccd5d2', '#ecdcca'],
    borderWidth: 1.5,
    barPercentage: 0.835, categoryPercentage: 1,
    textLabels: totalNodes.map(String), textFont: 'bold 28px ' + SERIF, textOffset: 13
  }] },
  options: {
    responsive: false,
    layout: { padding: { top: 16, right: 25, left: 0, bottom: 0 } },
    scales: {
      x: {
        type: 'linear', min: -0.487, max: 2.53, offset: false,
        afterFit: s => { s.height = 45; },
        afterBuildTicks: s => { s.ticks = [0, 1, 2].map(v => ({ value: v })); },
        border: { color: '#333', width: 3 },
        grid: { offset: false, drawOnChartArea: false, drawTicks: false },
        ticks: { autoSkip: false, maxRotation: 0, padding: 5, color: '#111', font: { size: 27, weight: 'bold' }, callback: v => vennSets[v] }
      },
      y: {
        min: 0, max: 496,
        afterFit: s => { s.width = 68; },
        afterBuildTicks: s => { s.ticks = totalTicks.map(v => ({ value: v })); },
        border: { color: '#333', width: 3 },
        grid: { drawOnChartArea: false, drawTicks: false },
        ticks: { padding: 9, color: '#111', font: { size: 27, weight: 'bold' }, callback: v => String(v) }
      }
    }
  }
});

// ---- networks
function parseNodes(rows, dx, dy) {
  return rows.split(',').map(r => {
    const f = r.trim().split(' ');
    return { label: f[0].replace(/b$/, ''), id: f[0], x: +f[1] + dx, y: +f[2] + dy, degree: +f[3], key: f[4] };
  });
}

function edgeDatasets(nodes, groups, colour, width) {
  const byId = new Map(nodes.map(n => [n.id, n]));
  const sets = [];
  groups.forEach(g => {
    const ids = [...new Set(g.split(' '))].filter(id => byId.has(id));
    ids.slice(0, -1).forEach((id, i) => {
      const pts = [];
      ids.slice(i + 1).forEach(other => {
        const a = byId.get(id), b = byId.get(other);
        pts.push({ x: a.x, y: a.y }, { x: b.x, y: b.y });
      });
      sets.push({ type: 'scatter', showLine: true, data: pts, borderColor: colour, borderWidth: width, pointRadius: 0, order: 3, clip: false });
    });
  });
  return sets;
}

function createNetwork(box, nodes, edges, labelSize) {
  new Chart(addCanvas(box.left, box.top, box.width, box.height), {
    type: 'bubble',
    plugins: [pointTextPlugin],
    data: { datasets: [
      ...edgeDatasets(nodes, edges.haze, 'rgba(236,120,170,' + edges.hazeAlpha + ')', 0.5),
      ...edgeDatasets(nodes, edges.positive, 'rgba(236,120,170,' + edges.alpha + ')', 0.5),
      ...edgeDatasets(nodes, edges.negative, 'rgba(130,180,235,' + edges.blueAlpha + ')', 0.5),
      {
        data: nodes.map(n => ({ x: n.x, y: n.y, r: nodeRadius[n.degree] })),
        backgroundColor: nodes.map(n => nodeFill[n.key]),
        borderColor: nodes.map(n => nodeEdge[n.key]),
        borderWidth: 1, order: 1, clip: false,
        textLabels: nodes.map(n => n.label), textFont: labelSize + 'px ' + SERIF, textColor: '#000'
      }
    ] },
    options: {
      responsive: false,
      layout: { autoPadding: false },
      scales: {
        x: { display: false, min: 0, max: box.xMax },
        y: { display: false, min: 0, max: box.yMax, reverse: true }
      }
    }
  });
}

const snadNodes = [
  ...parseNodes(snadTopLeft, 0, 0), ...parseNodes(snadTopRight, 975, 0),
  ...parseNodes(snadBottomLeft, 0, 945), ...parseNodes(snadBottomRight, 975, 945)
];
createNetwork({ left: 0, top: 780, width: 780, height: 720, xMax: 1568, yMax: 1568 }, parseNodes(pnaNodes, 0, 0),
  { positive: pnaPositive, negative: pnaNegative, haze: pnaHaze, alpha: 0.11, hazeAlpha: 0.05, blueAlpha: 0.12 }, 10);
createNetwork({ left: 715, top: 870, width: 650, height: 630, xMax: 1950, yMax: 1890 }, snadNodes,
  { positive: snadPositive, negative: snadNegative, haze: snadHaze, alpha: 0.1, hazeAlpha: 0.05, blueAlpha: 0.07 }, 9);
createNetwork({ left: 1400, top: 800, width: 801, height: 700, xMax: 1568, yMax: 1568 }, parseNodes(uasbNodes, 0, 0),
  { positive: uasbPositive, negative: uasbNegative, haze: uasbHaze, alpha: 0.11, hazeAlpha: 0.05, blueAlpha: 0.1 }, 10);

addText('IFAS-PN/A', 308, 811, 44, true, true);
addText('IFAS-SNAD', 1037, 842, 44, true, true);
addText('UASB', 1735, 832, 44, true, true);

[[pnaStats, 542], [snadStats, 1285], [uasbStats, 1968]].forEach(([lines, x]) => {
  addText(lines[0], x, 1400, 29.7);
  addText(lines[1], x, 1430, 29.7);
  addText(lines[2], x, 1462, 29.7);
});

addText('(a)', 717, 770, 42, false, true);
addText('(b)', 1759, 770, 42, false, true);
addText('(c)', 1046, 1813, 42, false, true);

// ---- legend
const legendGroups = [
  { names: pnaPhyla, share: pnaEdgeShare, dotX: [102, 335], textX: [125, 359], lineX: 321, shareX: 382,
    dotY: [1518, 1573, 1622, 1680, 1734], textY: [1515, 1570, 1620, 1677, 1731], lineY: [1679, 1734], shareY: [1682, 1733],
    colours: ['#b8d98a', '#f4b0c0', '#dccde6', '#eec878', '#f6b394', '#c4c4c4', '#8ed2d2', '#92cfae'] },
  { names: snadPhyla, share: snadEdgeShare, dotX: [821, 1050], textX: [846, 1074], lineX: 1037, shareX: 1101,
    dotY: [1521, 1575, 1626, 1686, 1738], textY: [1518, 1573, 1623, 1683, 1736], lineY: [1686, 1738], shareY: [1683, 1736],
    colours: ['#a9d37c', '#f4a8c4', '#d8c5e2', '#ebbd68', '#f4ad8a', '#c0c0c0', '#7fcdcc', '#8cc9a4'] },
  { names: uasbPhyla, share: uasbEdgeShare, dotX: [1522, 1754], textX: [1546, 1781], lineX: 1741, shareX: 1807,
    dotY: [1521, 1575, 1626, 1683, 1739], textY: [1518, 1572, 1623, 1680, 1736], lineY: [1683, 1737], shareY: [1680, 1736],
    colours: ['#b8dd8a', '#f6b0ca', '#dccbe6', '#efc87a', '#f8b99a', '#c8c8c8', '#96d5e8', '#96d0b2'] }
];
const edgeLineColours = ['#d870aa', '#0ea9ea'];

legendGroups.forEach(g => {
  g.names.forEach((name, i) => {
    // rows 0-2 hold two phyla, rows 3-4 one phylum plus an edge key
    const row = i < 6 ? Math.floor(i / 2) : i - 3;
    const col = i < 6 ? i % 2 : 0;
    const dot = document.createElement('div');
    dot.className = 'dot';
    dot.style.left = g.dotX[col] + 'px'; dot.style.top = g.dotY[row] + 'px';
    dot.style.background = g.colours[i];
    page.appendChild(dot);
    addText(name, g.textX[col], g.textY[row], 26, true);
  });
  g.share.forEach((text, i) => {
    const line = document.createElement('div');
    line.className = 'bar';
    line.style.left = g.lineX + 'px'; line.style.top = g.lineY[i] + 'px';
    line.style.background = edgeLineColours[i];
    page.appendChild(line);
    addText(text, g.shareX, g.shareY[i], 28, true, false, '#222');
  });
});
</script>
</body>
</html>
